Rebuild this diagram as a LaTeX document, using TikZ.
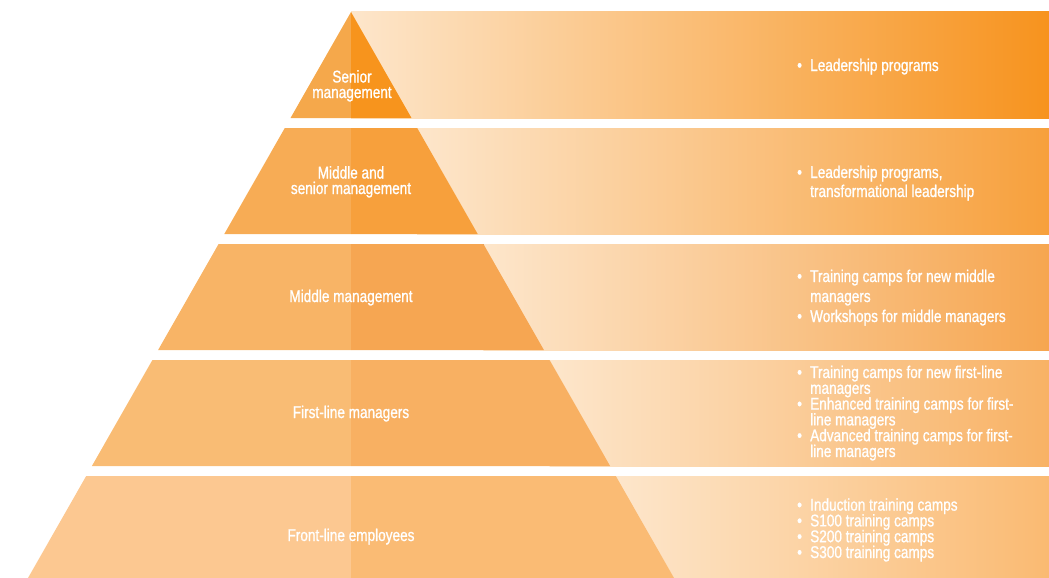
\documentclass[tikz,border=0pt]{standalone}
\usepackage{fontspec}
\setmainfont{Liberation Sans}[FakeStretch=0.80,FakeBold=1.0]
\usepackage{tikz}
\usetikzlibrary{positioning}
% layer colours
\definecolor{bandlight}{HTML}{FDE6CB}
\definecolor{lay1l}{HTML}{F5A84B}
\definecolor{lay1r}{HTML}{F7941D}
\definecolor{band1}{HTML}{F7931E}
\definecolor{lay2l}{HTML}{F7AC55}
\definecolor{lay2r}{HTML}{F7A03C}
\definecolor{band2}{HTML}{F7A03C}
\definecolor{lay3l}{HTML}{F8B466}
\definecolor{lay3r}{HTML}{F6A652}
\definecolor{band3}{HTML}{F6A650}
\definecolor{lay4l}{HTML}{F9BC74}
\definecolor{lay4r}{HTML}{F8B062}
\definecolor{band4}{HTML}{F8B265}
\definecolor{lay5l}{HTML}{FCC891}
\definecolor{lay5r}{HTML}{FABB74}
\definecolor{band5}{HTML}{FABA72}
% bullet, hanging indent, tight lines
\newcommand{\bul}{\makebox[13pt][l]{\textbullet}}
\newcommand{\ind}{\hspace*{13pt}}
\newcommand{\tightskip}{\lineskiplimit -20pt\relax}
\tikzset{
    %Define style for the level names
    level/.style={
           text=white,
           align=center,
           inner sep=0pt,
           anchor=base,
           font=\fontsize{17}{15.5}\selectfont\tightskip},
    %Define style for the bullet lists (anchored at last line)
    blist/.style={
           text=white,
           align=left,
           inner sep=0pt,
           anchor=base west,
           font=\fontsize{17}{#1}\selectfont\tightskip},
    blist/.default=19
}

\begin{document}
\begin{tikzpicture}[x=1pt,y=-1pt]
\useasboundingbox (0,0) rectangle (1049,578);
% bands and pyramid layers: top/bottom/left/right/band
\foreach \t/\b/\lc/\rc/\bc in {12/118/lay1l/lay1r/band1,
                              128/234/lay2l/lay2r/band2,
                              244/350/lay3l/lay3r/band3,
                              360/466/lay4l/lay4r/band4,
                              476/578/lay5l/lay5r/band5}{
  \fill[left color=bandlight,right color=\bc] ({351+(\t-12)*0.5707},\t) rectangle (1049,\b);
  \fill[\lc] ({351-(\t-12)*0.5707},\t) -- (351,\t) -- (351,\b) -- ({351-(\b-12)*0.5707},\b) -- cycle;
  \fill[\rc] (351,\t) -- ({351+(\t-12)*0.5707},\t) -- ({351+(\b-12)*0.5707},\b) -- (351,\b) -- cycle;
}
\node[level] (senior) at (352,98) {Senior\\management};
\node[level] (midsen) at (351,194) {Middle and\\senior management};
\node[level] (middle) at (351,302) {Middle management};
\node[level] (first) at (351,418) {First-line managers};
\node[level] (front) at (351,541) {Front-line employees};
\node[blist] (p1) at (797,71) {\bul Leadership programs};
\node[blist] (p2) at (797,197) {\bul Leadership programs,\\\ind transformational leadership};
\node[blist=20] (p3) at (797,322) {\bul Training camps for new middle\\\ind managers\\
  \bul Workshops for middle managers};
\node[blist=15.8] (p4) at (797,457) {\bul Training camps for new first-line\\\ind managers\\
  \bul Enhanced training camps for first-\\\ind line managers\\
  \bul Advanced training camps for first-\\\ind line managers};
\node[blist=15.8] (p5) at (797,558) {\bul Induction training camps\\
  \bul S100 training camps\\
  \bul S200 training camps\\
  \bul S300 training camps};
\end{tikzpicture}
\end{document}
